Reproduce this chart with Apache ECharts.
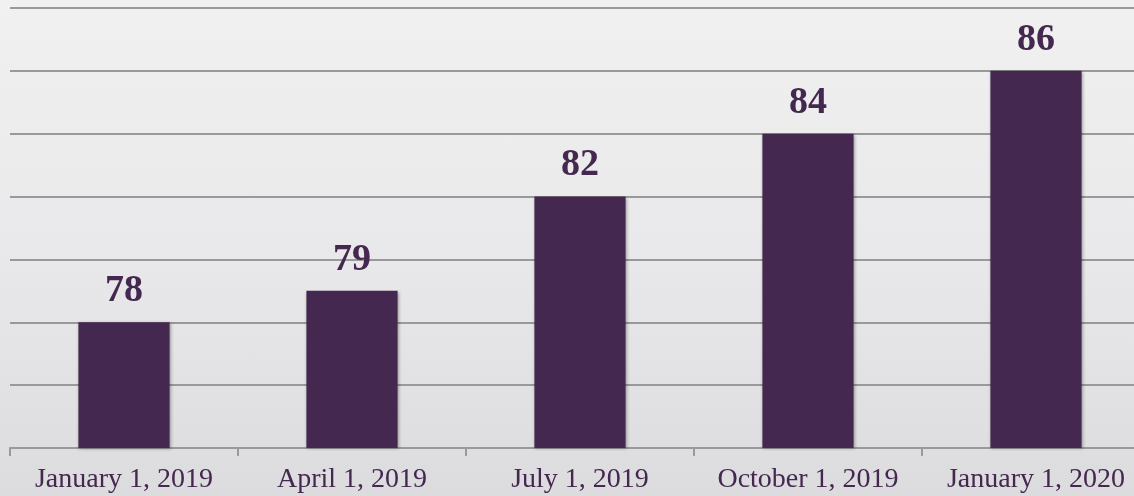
<!DOCTYPE html>
<html>
<head>
<meta charset="utf-8">
<script src="https://cdn.jsdelivr.net/npm/echarts@6/dist/echarts.min.js"></script>
<style>
html,body{margin:0;padding:0;overflow:hidden;width:1134px;height:496px;background:#e6e5e7;}
#main{width:1150px;height:496px;background:linear-gradient(to bottom,#f1f1f1 0%,#e9e8ea 50%,#dcdbdd 100%);}
</style>
</head>
<body>
<div id="main"></div>
<script>
// 分类与数值
var categories = ["January 1, 2019", "April 1, 2019", "July 1, 2019", "October 1, 2019", "January 1, 2020"];
var values = [78, 79, 82, 84, 86];
var purple = "#44284f";

var mychart = echarts.init(document.getElementById("main"));
var option = {
	animation : false,
	grid : {
		left : 10,
		top : 8,
		right : 0,
		bottom : 48
	},
	xAxis : {
		type : 'category',
		data : categories,
		axisLine : { lineStyle : { color : '#9a9a9a', width : 2 } },
		axisTick : { show : true, length : 8, lineStyle : { color : '#9a9a9a', width : 2 } },
		axisLabel : {
			interval : 0,
			color : purple,
			fontFamily : 'Liberation Serif',
			fontSize : 28,
			margin : 18
		}
	},
	yAxis : {
		type : 'value',
		min : 74,
		max : 88,
		interval : 2,
		axisLabel : { show : false },
		axisLine : { show : false },
		axisTick : { show : false },
		splitLine : { lineStyle : { color : '#999999', width : 2 } }
	},
	series : [ {
		type : 'bar',
		data : values,
		barWidth : '40%',
		itemStyle : {
			color : purple,
			shadowColor : 'rgba(0,0,0,0.3)',
			shadowBlur : 3,
			shadowOffsetX : 1,
			shadowOffsetY : 1
		},
		label : {
			show : true,
			position : 'top',
			distance : 12,
			color : purple,
			fontFamily : 'Liberation Serif',
			fontWeight : 'bold',
			fontSize : 38
		}
	} ]
};
mychart.setOption(option);
</script>
</body>
</html>
